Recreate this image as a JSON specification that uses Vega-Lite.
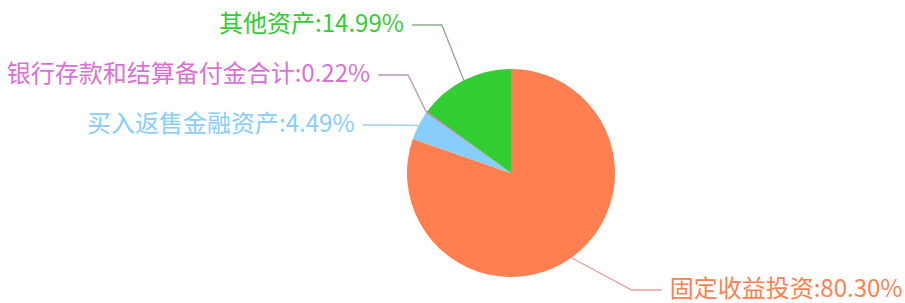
{
  "$schema": "https://vega.github.io/schema/vega-lite/v6.json",
  "width": 905,
  "height": 303,
  "autosize": "none",
  "padding": 0,
  "background": "white",
  "config": {"view": {"stroke": null}},
  "data": {
    "values": [
      {"category": "固定收益投资", "value": 80.30, "seq": 1},
      {"category": "买入返售金融资产", "value": 4.49, "seq": 2},
      {"category": "银行存款和结算备付金合计", "value": 0.22, "seq": 3},
      {"category": "其他资产", "value": 14.99, "seq": 4}
    ]
  },
  "transform": [
    {"window": [{"op": "sum", "field": "value", "as": "cum"}], "sort": [{"field": "seq"}], "frame": [null, 0]},
    {"joinaggregate": [{"op": "sum", "field": "value", "as": "total"}]},
    {"calculate": "(datum.cum - datum.value/2)/datum.total*2*PI", "as": "mid"},
    {"calculate": "sin(datum.mid) < 0 ? -1 : 1", "as": "dir"},
    {"calculate": "104*sin(datum.mid)", "as": "ex"},
    {"calculate": "104*cos(datum.mid)", "as": "ey"},
    {"calculate": "max(-117, min(148, 208*cos(datum.mid)))", "as": "ly0"},
    {"window": [{"op": "row_number", "as": "rank"}], "groupby": ["dir"], "sort": [{"field": "ly0", "order": "descending"}]},
    {"calculate": "datum.ly0 + 50*datum.rank", "as": "t"},
    {"window": [{"op": "min", "field": "t", "as": "tmin"}], "groupby": ["dir"], "sort": [{"field": "ly0", "order": "descending"}], "frame": [null, 0]},
    {"calculate": "datum.tmin - 50*datum.rank", "as": "ly"},
    {"calculate": "datum.ly > 0 ? datum.dir*123*sqrt(max(0, 1 - datum.ly*datum.ly/(179*179))) : 208*sin(datum.mid)", "as": "bx"},
    {"calculate": "datum.bx + datum.dir*30", "as": "nx"},
    {"calculate": "datum.nx + datum.dir*8", "as": "tx"},
    {"calculate": "datum.category + ':' + format(datum.value, '.2f') + '%'", "as": "label"}
  ],
  "layer": [
    {
      "mark": {"type": "arc", "radius": 104},
      "encoding": {
        "x": {"datum": 0, "type": "quantitative", "scale": {"domain": [-511, 394], "nice": false, "zero": false}, "axis": null},
        "y": {"datum": 0, "type": "quantitative", "scale": {"domain": [-130, 173], "nice": false, "zero": false}, "axis": null},
        "theta": {"field": "value", "type": "quantitative", "stack": true},
        "order": {"field": "seq", "sort": "ascending"},
        "color": {"field": "category", "type": "nominal", "legend": null,
          "scale": {"domain": ["固定收益投资", "买入返售金融资产", "银行存款和结算备付金合计", "其他资产"], "range": ["#ff7f50", "#87cefa", "#da70d6", "#32cd32"]}}
      }
    },
    {
      "transform": [
        {"calculate": "[0, 1, 2]", "as": "pt"},
        {"flatten": ["pt"]},
        {"calculate": "datum.pt == 0 ? datum.ex : (datum.pt == 1 ? datum.bx : datum.nx)", "as": "px"},
        {"calculate": "datum.pt == 0 ? datum.ey : datum.ly", "as": "py"}
      ],
      "mark": {"type": "line", "strokeWidth": 1.3},
      "encoding": {
        "x": {"field": "px", "type": "quantitative", "scale": {"domain": [-511, 394], "nice": false, "zero": false}, "axis": null},
        "y": {"field": "py", "type": "quantitative", "scale": {"domain": [-130, 173], "nice": false, "zero": false}, "axis": null},
        "detail": {"field": "category"},
        "order": {"field": "pt", "type": "quantitative"},
        "stroke": {"field": "category", "type": "nominal", "legend": null,
          "scale": {"domain": ["固定收益投资", "买入返售金融资产", "银行存款和结算备付金合计", "其他资产"], "range": ["#e8a09a", "#a8cce0", "#b89ab8", "#8fa88f"]}}
      }
    },
    {
      "transform": [{"filter": "datum.dir < 0"}],
      "mark": {"type": "text", "align": "right", "baseline": "middle", "font": "Noto Sans CJK SC", "fontSize": 24},
      "encoding": {
        "x": {"field": "tx", "type": "quantitative", "scale": {"domain": [-511, 394], "nice": false, "zero": false}, "axis": null},
        "y": {"field": "ly", "type": "quantitative", "scale": {"domain": [-130, 173], "nice": false, "zero": false}, "axis": null},
        "text": {"field": "label"},
        "color": {"field": "category", "type": "nominal", "legend": null,
          "scale": {"domain": ["固定收益投资", "买入返售金融资产", "银行存款和结算备付金合计", "其他资产"], "range": ["#ff7f50", "#87cefa", "#da70d6", "#32cd32"]}}
      }
    },
    {
      "transform": [{"filter": "datum.dir > 0"}],
      "mark": {"type": "text", "align": "left", "baseline": "middle", "font": "Noto Sans CJK SC", "fontSize": 24},
      "encoding": {
        "x": {"field": "tx", "type": "quantitative", "scale": {"domain": [-511, 394], "nice": false, "zero": false}, "axis": null},
        "y": {"field": "ly", "type": "quantitative", "scale": {"domain": [-130, 173], "nice": false, "zero": false}, "axis": null},
        "text": {"field": "label"},
        "color": {"field": "category", "type": "nominal", "legend": null,
          "scale": {"domain": ["固定收益投资", "买入返售金融资产", "银行存款和结算备付金合计", "其他资产"], "range": ["#ff7f50", "#87cefa", "#da70d6", "#32cd32"]}}
      }
    }
  ]
}
